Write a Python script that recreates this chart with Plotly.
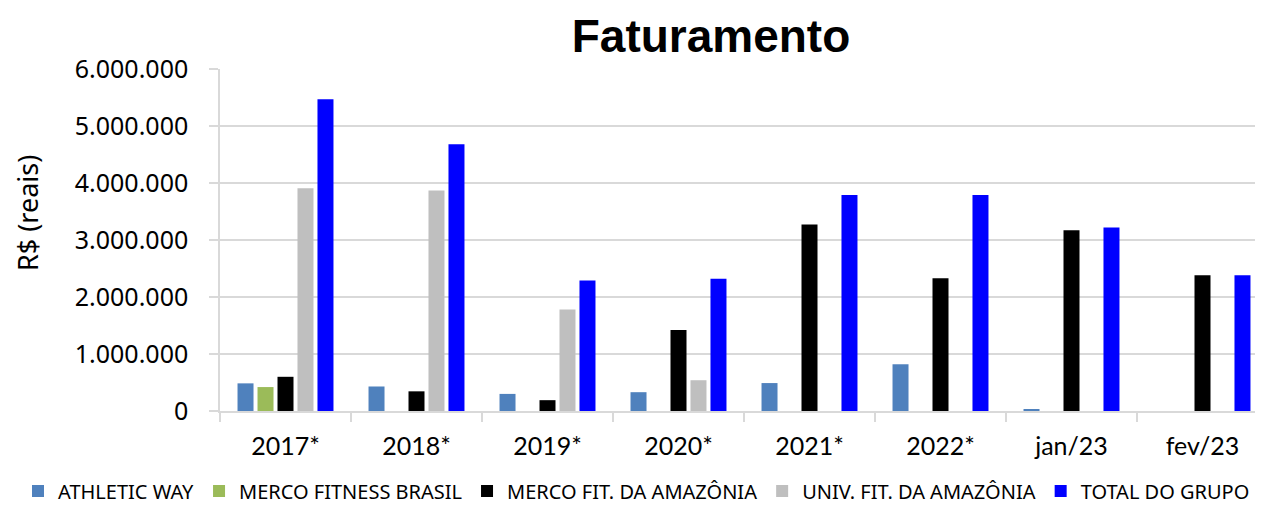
import plotly.graph_objects as go

categories = ["2017*", "2018*", "2019*", "2020*", "2021*", "2022*", "jan/23", "fev/23"]

athletic_way = [485000, 430000, 300000, 330000, 490000, 820000, 30000, 0]
merco_fitness_brasil = [420000, 0, 0, 0, 0, 0, 0, 0]
merco_fit_amazonia = [600000, 345000, 190000, 1420000, 3270000, 2330000, 3170000, 2380000]
univ_fit_amazonia = [3910000, 3870000, 1780000, 540000, 0, 0, 0, 0]
total_grupo = [5470000, 4680000, 2290000, 2320000, 3790000, 3790000, 3220000, 2380000]

series = [
    ("ATHLETIC WAY", athletic_way, "#4f81bd"),
    ("MERCO FITNESS BRASIL", merco_fitness_brasil, "#9bbb59"),
    ("MERCO FIT. DA AMAZÔNIA", merco_fit_amazonia, "#000000"),
    ("UNIV. FIT. DA AMAZÔNIA", univ_fit_amazonia, "#bfbfbf"),
    ("TOTAL DO GRUPO", total_grupo, "#0000ff"),
]

fig = go.Figure()
for name, vals, color in series:
    fig.add_trace(go.Bar(
        x=categories, y=vals, name=name,
        marker=dict(color=color, line=dict(width=0)),
    ))

# page body adds an 8px offset; layout numbers below are in figure coords
W, H = 1263, 505
L, R, T, B = 212, 3, 61, 102
PW, PH = W - L - R, H - T - B
grid = "#d9d9d9"

fig.update_layout(
    width=W, height=H,
    margin=dict(l=L, r=R, t=T, b=B, pad=0, autoexpand=False),
    paper_bgcolor="white", plot_bgcolor="white",
    separators=",.",
    barmode="group", bargap=0.237, bargroupgap=0.2,
    title=dict(text="<b>Faturamento</b>", x=(703 - L) / PW, xref="paper", xanchor="center",
               y=1 - 28 / H, yref="container", yanchor="middle",
               font=dict(family="Liberation Sans", size=46, color="black")),
    legend=dict(orientation="h", x=(10 - L) / PW, xanchor="left",
                y=(T + PH - 483) / PH, yanchor="middle",
                font=dict(family="Noto Sans", size=20, color="black"),
                itemwidth=30, traceorder="normal"),
    font=dict(family="Noto Sans", color="black"),
)

fig.update_xaxes(
    type="category", range=[-0.5, 7.5],
    showline=True, linecolor=grid, linewidth=1.5,
    ticks="outside", tickson="boundaries", ticklen=9, tickcolor=grid, tickwidth=1.5,
    showgrid=False,
    tickfont=dict(family="Lato", size=25, color="black"),
    ticklabelstandoff=12,
    automargin=False,
)
fig.update_yaxes(
    range=[0, 6000000], dtick=1000000, tickformat=",.0f",
    showgrid=True, gridcolor=grid, gridwidth=1.5,
    showline=True, linecolor=grid, linewidth=1.5,
    ticks="outside", ticklen=9, tickcolor=grid, tickwidth=1.5,
    tickfont=dict(family="Noto Sans", size=25, color="black"),
    ticklabelstandoff=16,
    zeroline=False,
    automargin=False,
)

fig.add_annotation(
    text="R$ (reais)", textangle=-90,
    xref="paper", x=(19 - L) / PW, xanchor="center",
    yref="paper", y=(T + PH - 205) / PH, yanchor="middle",
    showarrow=False, font=dict(family="Noto Sans", size=27, color="black"),
)

fig.write_html("out.html")
